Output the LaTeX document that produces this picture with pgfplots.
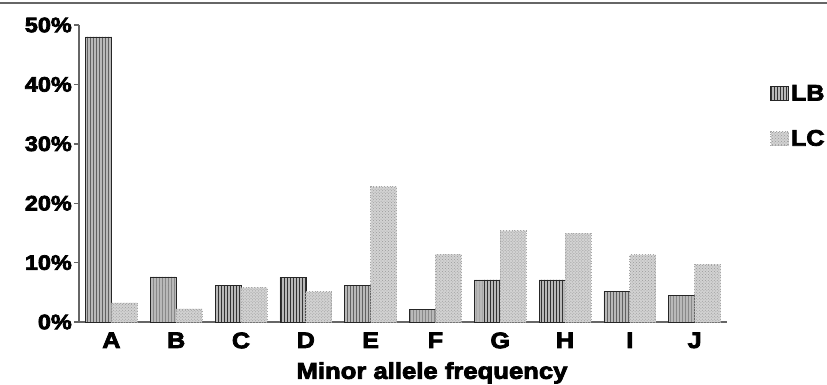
\documentclass[border=0pt]{standalone}
\usepackage{fontspec}
\setmainfont{Liberation Sans}[BoldFeatures={FakeStretch=1.12,FakeBold=3.5}]
\usepackage{pgfplots}
\pgfplotsset{compat=1.18}
\usetikzlibrary{patterns}
\definecolor{axgray}{gray}{0.4}
\begin{document}
\begin{tikzpicture}
\path[use as bounding box] (-79bp,-63bp) rectangle (748bp,322bp);
\draw[axgray, line width=2bp] (-79bp,319bp) -- (748bp,319bp);
\begin{axis}[
  scale only axis, width=648bp, height=297bp,
  ymin=0, ymax=50, xmin=-0.5, xmax=9.5,
  axis lines*=left,
  axis line style={axgray, line width=1.6bp},
  ybar=0pt, bar width=26bp,
  font=\bfseries,
  ytick={0,10,...,50},
  yticklabel={\pgfmathprintnumber{\tick}\%},
  /pgf/number format/assume math mode=true,
  yticklabel style={font=\fontsize{21}{24}\selectfont\bfseries, inner sep=2bp},
  ytick style={axgray, line width=1.4bp},
  tick align=outside, major tick length=5bp,
  xtick={0,...,9},
  xticklabels={A,B,C,D,E,F,G,H,I,J},
  xticklabel style={font=\fontsize{22.5}{26}\selectfont\bfseries, yshift=-2bp},
  xtick style={draw=none},
  extra x ticks={0.5,1.5,...,9.5},
  extra x tick labels={},
  extra x tick style={tick style={axgray, line width=1.4bp, draw=axgray}, major tick length=6bp},
  xlabel={Minor allele frequency},
  xlabel style={font=\fontsize{23}{27}\selectfont\bfseries, xshift=29bp, yshift=4bp},
  legend style={draw=none, fill=none, at={(691/648,0.805)}, anchor=north west,
    font=\fontsize{22.5}{26}\selectfont\bfseries, row sep=24bp, inner sep=0pt,
    /tikz/every even column/.append style={column sep=1bp}},
  legend cell align=left,
  legend image code/.code={\draw[#1] (0bp,-7bp) rectangle (18bp,7bp);},
]
\addplot[fill=gray!55, draw=black!85, line width=0.6bp,
  postaction={pattern=vertical lines, pattern color=black!80}]
  coordinates {(0,48.0) (1,7.6) (2,6.2) (3,7.5) (4,6.2) (5,2.1) (6,7.1) (7,7.1) (8,5.1) (9,4.5)};
\addplot[fill=gray!35, draw=gray!70, dotted, line width=0.8bp,
  postaction={pattern=crosshatch dots, pattern color=gray!80}]
  coordinates {(0,3.2) (1,2.2) (2,5.8) (3,5.1) (4,22.8) (5,11.4) (6,15.4) (7,14.9) (8,11.3) (9,9.7)};
\legend{LB,LC}
\end{axis}
\end{tikzpicture}
\end{document}
